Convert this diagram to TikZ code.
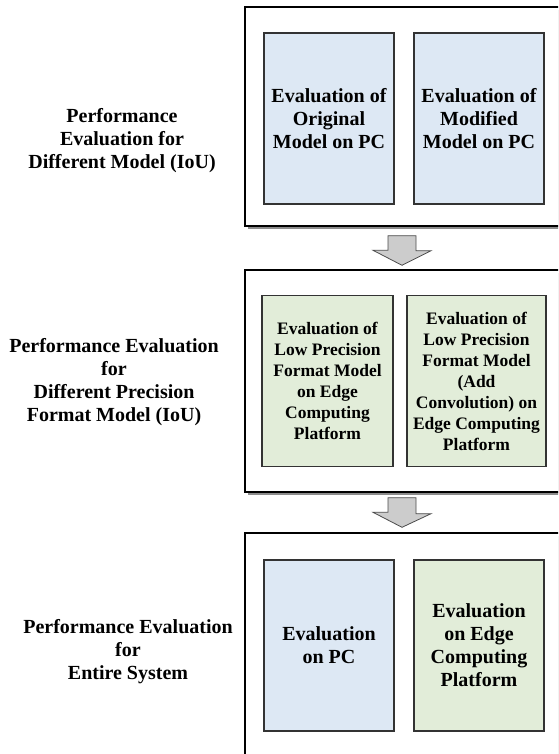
\documentclass[tikz,border=0pt]{standalone}
\usepackage{fontspec}
\setmainfont{Liberation Serif}
\usetikzlibrary{shadows}
\begin{document}
\begin{tikzpicture}[x=1pt,y=-1pt,
  outerbox/.style={draw=black,line width=1.4pt,fill=white,inner sep=0pt,minimum width=327pt,
    drop shadow={shadow xshift=3pt,shadow yshift=-3pt,fill=black!45,opacity=1}},
  innerbox/.style={draw=black!80,line width=1.2pt,inner sep=0pt,align=center,minimum height=171pt},
  innerblue/.style={innerbox,fill=blueA},
  innergreen/.style={innerbox,fill=greenA},
  bigtext/.style={align=center,font=\fontsize{20}{23}\selectfont\bfseries},
  smalltext/.style={font=\fontsize{17.5}{21}\selectfont\bfseries},
  bigarrow/.style={draw=black!70,line width=0.8pt,fill=black!20,line join=miter}]
\definecolor{blueA}{HTML}{DDE8F4}
\definecolor{greenA}{HTML}{E2EDD9}
\useasboundingbox (0,0) rectangle (558,754);
\clip (0,0) rectangle (558,754);
\fill[white] (0,0) rectangle (558,754);

% outer containers
\node[outerbox,minimum height=219pt] (o1) at (408.5,116.5) {};
\node[outerbox,minimum height=222pt] (o2) at (408.5,381) {};
\node[outerbox,minimum height=235pt] (o3) at (408.5,650.5) {};

% inner boxes
\node[innerblue,minimum width=130pt,bigtext] (b1a) at (329,118.5) {Evaluation of\\Original\\Model on PC};
\node[innerblue,minimum width=130pt,bigtext] (b1b) at (479,118.5) {Evaluation of\\Modified\\Model on PC};

\node[innergreen,minimum width=131pt,smalltext] (b2a) at (327.5,381) {Evaluation of\\Low Precision\\Format Model\\on Edge\\Computing\\Platform};
\node[innergreen,minimum width=139pt,smalltext] (b2b) at (476.5,381) {Evaluation of\\Low Precision\\Format Model\\(Add\\Convolution) on\\Edge Computing\\Platform};

\node[innerblue,minimum width=130pt,bigtext] (b3a) at (329,645.5) {Evaluation\\on PC};
\node[innergreen,minimum width=130pt,bigtext] (b3b) at (479,645.5) {Evaluation\\on Edge\\Computing\\Platform};

% left labels
\node[bigtext] (l1) at (122,141) {Performance\\Evaluation for\\Different Model (IoU)};
\node[bigtext] (l2) at (114,382) {Performance Evaluation\\for\\Different Precision\\Format Model (IoU)};
\node[bigtext] (l3) at (128,652) {Performance Evaluation\\for\\Entire System};

% block arrows between the containers
\coordinate (a1) at ([xshift=-6.5pt,yshift=-9pt]o1.south);
\draw[bigarrow] (a1) ++(-14,0) -- ++(28,0) -- ++(0,15) -- ++(15,0) -- ([xshift=-6.5pt,yshift=4pt]o2.north) -- ++(-29,-15) -- ++(15,0) -- cycle;
\coordinate (a2) at ([xshift=-6.5pt,yshift=-5pt]o2.south);
\draw[bigarrow] (a2) ++(-14,0) -- ++(28,0) -- ++(0,16) -- ++(15,0) -- ([xshift=-6.5pt,yshift=5pt]o3.north) -- ++(-29,-15) -- ++(15,0) -- cycle;
\end{tikzpicture}
\end{document}
